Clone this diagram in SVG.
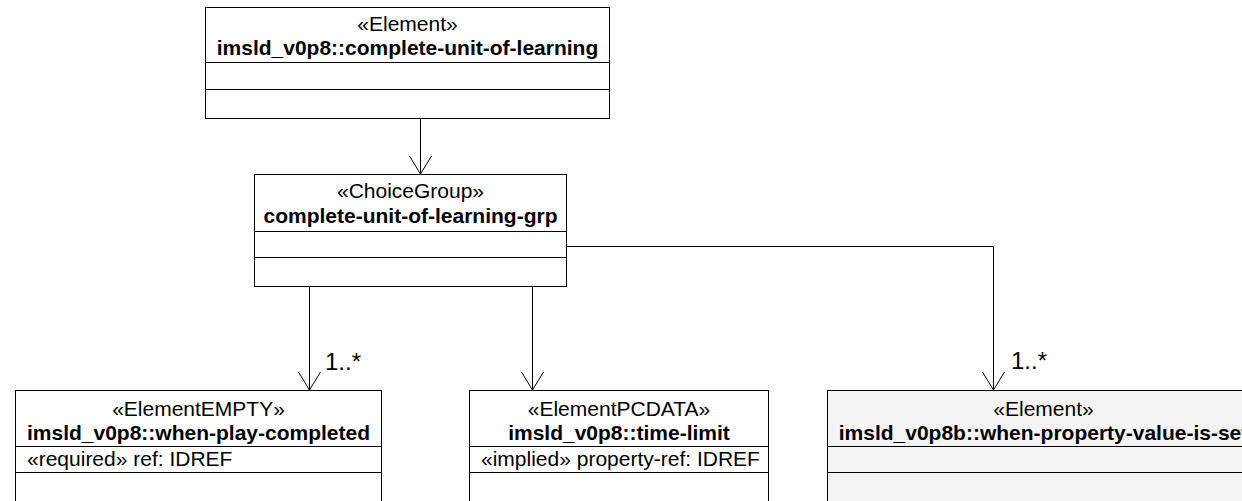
<svg xmlns="http://www.w3.org/2000/svg" width="1242" height="501" viewBox="0 0 1242 501">
<style>
text{font-family:"Liberation Sans",Arial,sans-serif;font-size:21px;fill:#000}
.b{font-weight:bold}
.c{text-anchor:middle}
.box{fill:#fff;stroke:#000;stroke-width:1}
.gray{fill:#f4f4f4}
.sep{stroke:#000;stroke-width:1}
.edge{fill:none;stroke:#000;stroke-width:1}
.mult{font-size:24px}
</style>
<defs>
<marker id="open" markerUnits="userSpaceOnUse" markerWidth="24" markerHeight="26" refX="20" refY="12" orient="auto" viewBox="0 0 24 26">
<path d="M2,1 L20,12 L2,23" fill="none" stroke="#000" stroke-width="1"/>
</marker>
</defs>
<rect width="1242" height="501" fill="#fff"/>
<g id="connectors">
<path class="edge" d="M420.5,118 V174" marker-end="url(#open)"/>
<path class="edge" d="M309.5,286 V390" marker-end="url(#open)"/>
<path class="edge" d="M532.5,286 V390" marker-end="url(#open)"/>
<path class="edge" d="M567,246.5 H993.5 V390" marker-end="url(#open)"/>
<text class="mult" x="325" y="370">1..*</text>
<text class="mult" x="1011" y="369">1..*</text>
</g>
<g id="complete-unit-of-learning">
<rect class="box" x="205.5" y="7.5" width="404" height="111"/>
<text class="c" x="407.5" y="31">«Element»</text>
<text class="c b" x="407.5" y="55">imsld_v0p8::complete-unit-of-learning</text>
<line class="sep" x1="205.5" y1="62.5" x2="609.5" y2="62.5"/>
<line class="sep" x1="205.5" y1="89.5" x2="609.5" y2="89.5"/>
</g>
<g id="complete-unit-of-learning-grp">
<rect class="box" x="254.5" y="174.5" width="312" height="112"/>
<text class="c" x="410.5" y="198">«ChoiceGroup»</text>
<text class="c b" x="410.5" y="223">complete-unit-of-learning-grp</text>
<line class="sep" x1="254.5" y1="231.5" x2="566.5" y2="231.5"/>
<line class="sep" x1="254.5" y1="257.5" x2="566.5" y2="257.5"/>
</g>
<g id="when-play-completed">
<rect class="box" x="15.5" y="390.5" width="366" height="130"/>
<text class="c" x="198.5" y="416">«ElementEMPTY»</text>
<text class="c b" x="198.5" y="440">imsld_v0p8::when-play-completed</text>
<line class="sep" x1="15.5" y1="446.5" x2="381.5" y2="446.5"/>
<text x="27" y="466">«required» ref: IDREF</text>
<line class="sep" x1="15.5" y1="472.5" x2="381.5" y2="472.5"/>
</g>
<g id="time-limit">
<rect class="box" x="469.5" y="390.5" width="299" height="130"/>
<text class="c" x="619" y="416">«ElementPCDATA»</text>
<text class="c b" x="619" y="440">imsld_v0p8::time-limit</text>
<line class="sep" x1="469.5" y1="446.5" x2="768.5" y2="446.5"/>
<text x="481" y="466">«implied» property-ref: IDREF</text>
<line class="sep" x1="469.5" y1="472.5" x2="768.5" y2="472.5"/>
</g>
<g id="when-property-value-is-set">
<rect class="box gray" x="827.5" y="390.5" width="432" height="130"/>
<text class="c" x="1043.5" y="416">«Element»</text>
<text class="c b" x="1043.5" y="440">imsld_v0p8b::when-property-value-is-set</text>
<line class="sep" x1="827.5" y1="446.5" x2="1259.5" y2="446.5"/>
<line class="sep" x1="827.5" y1="472.5" x2="1259.5" y2="472.5"/>
</g>
</svg>
